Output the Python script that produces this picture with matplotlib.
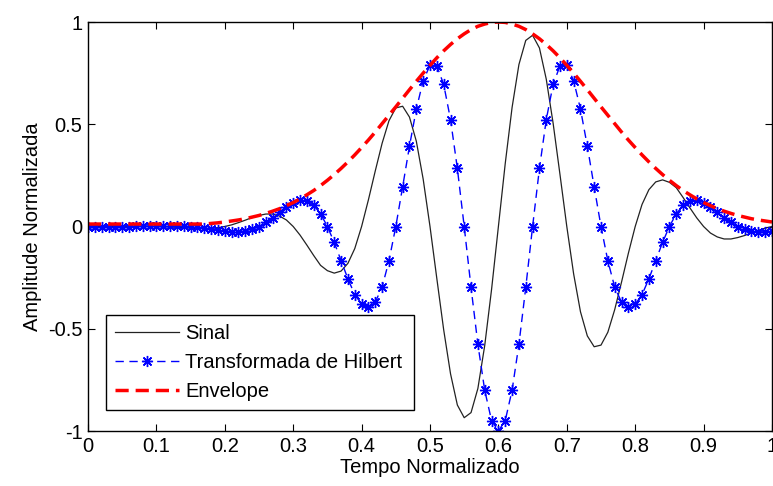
import numpy as np
import matplotlib
matplotlib.use('Agg')
import matplotlib.pyplot as plt

plt.rcParams['font.family'] = ['Liberation Sans', 'DejaVu Sans']

# eixo do tempo normalizado, passo 0.01
tempo = np.linspace(0, 1, 101)

sinal = [0, 0, 0, 0, 0, 0.001, 0.001, 0.001, 0.001, 0.001,
         0, -0.001, -0.002, -0.004, -0.006, -0.008, -0.010, -0.010, -0.009, -0.006,
         0, 0.008, 0.019, 0.031, 0.044, 0.054, 0.061, 0.061, 0.051, 0.032,
         0, -0.042, -0.091, -0.142, -0.190, -0.216, -0.228, -0.218, -0.180, -0.108,
         0, 0.131, 0.272, 0.407, 0.517, 0.580, 0.588, 0.535, 0.417, 0.232,
         0, -0.255, -0.505, -0.720, -0.873, -0.935, -0.910, -0.792, -0.582, -0.308,
         0, 0.308, 0.582, 0.792, 0.910, 0.935, 0.873, 0.720, 0.505, 0.255,
         0, -0.232, -0.417, -0.535, -0.588, -0.580, -0.517, -0.407, -0.272, -0.131,
         0, 0.108, 0.180, 0.218, 0.228, 0.216, 0.190, 0.142, 0.091, 0.042,
         0, -0.032, -0.051, -0.061, -0.061, -0.054, -0.044, -0.031, -0.019, -0.008,
         0]

hilbert = [0, 0, 0, 0, 0, 0, 0, 0.001, 0.001, 0.002,
           0.003, 0.003, 0.003, 0.003, 0.002, 0, -0.003, -0.007, -0.012, -0.017,
           -0.022, -0.026, -0.026, -0.022, -0.014, 0, 0.020, 0.044, 0.070, 0.097,
           0.117, 0.128, 0.125, 0.103, 0.062, 0, -0.078, -0.167, -0.256, -0.333,
           -0.380, -0.392, -0.370, -0.296, -0.168, 0, 0.194, 0.393, 0.574, 0.713,
           0.788, 0.785, 0.695, 0.523, 0.284, 0, -0.298, -0.576, -0.801, -0.949,
           -1.0, -0.949, -0.801, -0.576, -0.298, 0, 0.284, 0.523, 0.695, 0.785,
           0.788, 0.713, 0.574, 0.393, 0.194, 0, -0.168, -0.296, -0.370, -0.392,
           -0.380, -0.333, -0.256, -0.167, -0.078, 0, 0.062, 0.103, 0.125, 0.128,
           0.117, 0.097, 0.070, 0.044, 0.020, 0, -0.014, -0.022, -0.026, -0.026,
           -0.022]

envelope = [0.012, 0.012, 0.012, 0.012, 0.012, 0.012, 0.012, 0.012, 0.012, 0.012,
            0.012, 0.012, 0.012, 0.012, 0.012, 0.012, 0.012, 0.012, 0.015, 0.018,
            0.022, 0.027, 0.032, 0.038, 0.046, 0.054, 0.064, 0.075, 0.087, 0.102,
            0.117, 0.135, 0.155, 0.176, 0.200, 0.226, 0.254, 0.284, 0.316, 0.350,
            0.386, 0.423, 0.462, 0.503, 0.544, 0.585, 0.627, 0.669, 0.710, 0.750,
            0.788, 0.825, 0.859, 0.890, 0.918, 0.942, 0.963, 0.979, 0.990, 0.998,
            1.000, 0.998, 0.990, 0.979, 0.963, 0.942, 0.918, 0.890, 0.859, 0.825,
            0.788, 0.750, 0.710, 0.669, 0.627, 0.585, 0.544, 0.503, 0.462, 0.423,
            0.386, 0.350, 0.316, 0.284, 0.254, 0.226, 0.200, 0.176, 0.155, 0.135,
            0.117, 0.102, 0.087, 0.075, 0.064, 0.054, 0.046, 0.038, 0.032, 0.027,
            0.022]

xticks = [0, 0.1, 0.2, 0.3, 0.4, 0.5, 0.6, 0.7, 0.8, 0.9, 1]
xticklabels = ['0', '0.1', '0.2', '0.3', '0.4', '0.5', '0.6', '0.7', '0.8', '0.9', '1']
yticks = [-1, -0.5, 0, 0.5, 1]
yticklabels = ['-1', '-0.5', '0', '0.5', '1']

fig = plt.figure(figsize=(7.73, 4.86), dpi=100)
ax = fig.add_axes([88 / 773, 1 - 431 / 486, 684 / 773, 409 / 486])

ax.plot(tempo, sinal, color='#222222', lw=0.9, label='Sinal')
ax.plot(tempo, hilbert, color='blue', lw=1.0, dashes=(6, 4),
        marker=(8, 2, 0), markersize=8, markeredgewidth=1.0,
        label='Transformada de Hilbert')
ax.plot(tempo, envelope, color='red', lw=2.5, dashes=(3.8, 2.0),
        label='Envelope')

ax.set_xlim(0, 1)
ax.set_ylim(-1, 1)
ax.set_xticks(xticks)
ax.set_xticklabels(xticklabels)
ax.set_yticks(yticks)
ax.set_yticklabels(yticklabels)
ax.tick_params(direction='in', length=5, width=0.8, top=True, right=True,
               labelsize=14.5, pad=4, colors='black')
for s in ax.spines.values():
    s.set_linewidth(1.0)

ax.set_xlabel('Tempo Normalizado', fontsize=14.5, labelpad=2)
ax.set_ylabel('Amplitude Normalizada', fontsize=14.5, labelpad=4)

leg = ax.legend(loc='lower left', bbox_to_anchor=(0.026, 0.051, 0.45, 0.232),
                mode='expand', fontsize=14.5, fancybox=False, framealpha=1,
                edgecolor='black', handlelength=3.2, handletextpad=0.3,
                labelspacing=0.5, borderpad=0.45, numpoints=1, borderaxespad=0)
leg.get_frame().set_linewidth(1.0)

fig.savefig('out.png', dpi=100)
